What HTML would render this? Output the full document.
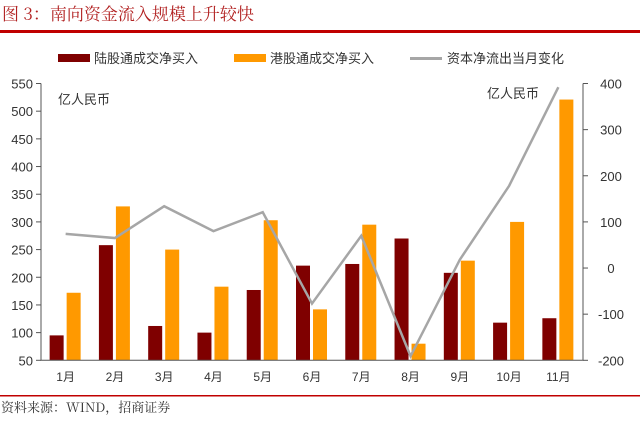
<!DOCTYPE html>
<html><head><meta charset="utf-8"><style>
body{margin:0;background:#fff;width:640px;height:419px;overflow:hidden;font-family:"Liberation Sans","Noto Sans CJK SC",sans-serif}
</style></head><body>
<svg width="640" height="419" xmlns="http://www.w3.org/2000/svg" font-family="Liberation Sans, Noto Sans CJK SC, sans-serif">
<text x="2" y="20" font-size="17" fill="#b22222" font-family="Noto Serif CJK SC, serif">图 3：南向资金流入规模上升较快</text>
<rect x="0" y="30" width="640" height="3" fill="#c00000"/>
<g font-size="13" fill="#333">
<rect x="58" y="54" width="32" height="8" fill="#7f0000"/>
<text x="94" y="63">陆股通成交净买入</text>
<rect x="234" y="54" width="32" height="8" fill="#ff9900"/>
<text x="270" y="63">港股通成交净买入</text>
<rect x="410" y="57" width="32" height="3" fill="#a6a6a6"/>
<text x="447" y="63">资本净流出当月变化</text>
</g>
<text x="58" y="104" font-size="13" fill="#333">亿人民币</text>
<text x="487" y="98" font-size="13" fill="#333">亿人民币</text>
<g id="plot"></g>
<rect x="0" y="395" width="640" height="1.5" fill="#c00000"/>
<text x="1" y="412" font-size="13" fill="#333" font-family="Noto Serif CJK SC, serif">资料来源：WIND，招商证券</text>
</svg>
<script>
const categories=["1月","2月","3月","4月","5月","6月","7月","8月","9月","10月","11月"];
const northbound=[95,258,112,100,177,221,224,270,208,118,126];
const southbound=[172,328,250,183,303,142,295,80,230,300,521];
const capitalOutflow=[74,65,134,80,121,-77,70,-191,18,178,392];
const leftTicks=[50,100,150,200,250,300,350,400,450,500,550];
const rightTicks=[-200,-100,0,100,200,300,400];
const NS="http://www.w3.org/2000/svg";
const g=document.getElementById('plot');
const X0=41,X1=583,YB=360.3,YT=83.5;
const yL=v=>YB-(v-50)/500*(YB-YT);
const yR=v=>YB-(v+200)/600*(YB-YT);
const bw=(X1-X0)/categories.length;
const xc=i=>X0+bw*(i+0.5);
function el(t,a){const e=document.createElementNS(NS,t);for(const k in a)e.setAttribute(k,a[k]);g.appendChild(e);return e;}
categories.forEach((c,i)=>{
  let r=el('rect',{x:xc(i)-16,y:yL(northbound[i]),width:14,height:YB-yL(northbound[i]),fill:'#7f0000'});
  
  
  let r2=el('rect',{x:xc(i)+1,y:yL(southbound[i]),width:14,height:YB-yL(southbound[i]),fill:'#ff9900'});
  
  
  let t=el('text',{x:xc(i),y:381,'font-size':12,fill:'#333','text-anchor':'middle'});
  t.textContent=c;
  
  
});
let pl=el('polyline',{points:capitalOutflow.map((v,i)=>xc(i)+','+yR(v)).join(' '),fill:'none',stroke:'#a6a6a6','stroke-width':2.5});


let ax=el('path',{d:`M${X0},${YT}V${YB}H${X1}V${YT}`,fill:'none',stroke:'#555','stroke-width':1});


leftTicks.forEach(v=>{
  el('line',{x1:X0-5,x2:X0,y1:yL(v),y2:yL(v),stroke:'#555'});
  let t=el('text',{x:X0-8,y:yL(v)+5,'font-size':13,fill:'#333','text-anchor':'end'});
  t.textContent=v;
  
  
});
rightTicks.forEach(v=>{
  el('line',{x1:X1,x2:X1+5,y1:yR(v),y2:yR(v),stroke:'#555'});
  let t=el('text',{x:X1+28,y:yR(v)+5,'font-size':13,fill:'#333','text-anchor':'middle'});
  t.textContent=v;
  
  
});
</script>
</body></html>
